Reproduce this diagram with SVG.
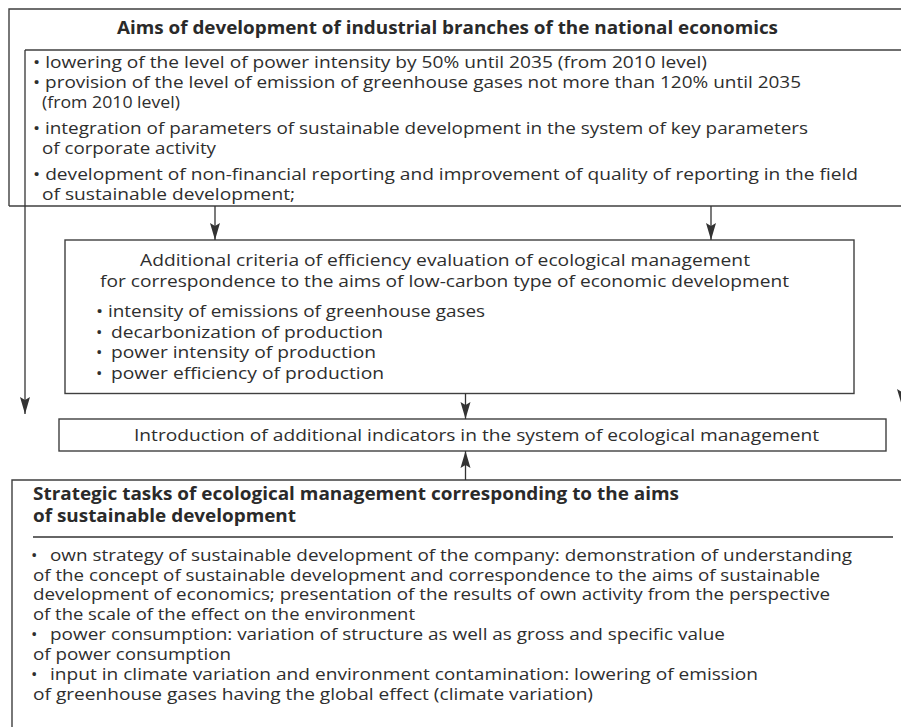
<svg xmlns="http://www.w3.org/2000/svg" width="901" height="727" viewBox="0 0 901 727">
  <style>
    .frame { fill: none; stroke: #3f3f3f; stroke-width: 1.4; }
    .link { fill: none; stroke: #333; stroke-width: 1.3; }
    .t { font-family: "Open Sans", "Liberation Sans", sans-serif; font-size: 17px; fill: #2e2e2e; }
    .h { font-family: "Open Sans", "Liberation Sans", sans-serif; font-size: 17px; font-weight: bold; fill: #2a2a2a; }
  </style>
  <defs>
    <marker id="arrow" markerUnits="userSpaceOnUse" markerWidth="18" markerHeight="12" viewBox="0 0 18 12" refX="17" refY="6" orient="auto">
      <path d="M0,1 L17,6 L0,11 L3,6 Z" fill="#333"/>
    </marker>
  </defs>
  <rect width="901" height="727" fill="#fff"/>

  <!-- Aims block (top) -->
  <g id="aims">
    <path class="frame" d="M9,206 V9 H905"/>
    <path class="frame" d="M9,206 H905"/>
    <path class="frame" d="M25,50 H905"/>
    <text class="h" x="117" y="34" textLength="661" lengthAdjust="spacingAndGlyphs">Aims of development of industrial branches of the national economics</text>
    <text class="t" x="33" y="68" textLength="674" lengthAdjust="spacingAndGlyphs">• lowering of the level of power intensity by 50% until 2035 (from 2010 level)</text>
    <text class="t" x="33" y="88" textLength="768" lengthAdjust="spacingAndGlyphs">• provision of the level of emission of greenhouse gases not more than 120% until 2035</text>
    <text class="t" x="42" y="108" textLength="138" lengthAdjust="spacingAndGlyphs">(from 2010 level)</text>
    <text class="t" x="33" y="134" textLength="775" lengthAdjust="spacingAndGlyphs">• integration of parameters of sustainable development in the system of key parameters</text>
    <text class="t" x="42" y="154" textLength="174" lengthAdjust="spacingAndGlyphs">of corporate activity</text>
    <text class="t" x="33" y="180" textLength="825" lengthAdjust="spacingAndGlyphs">• development of non-financial reporting and improvement of quality of reporting in the field</text>
    <text class="t" x="42" y="200" textLength="253" lengthAdjust="spacingAndGlyphs">of sustainable development;</text>
  </g>

  <!-- Additional criteria block -->
  <g id="criteria">
    <rect class="frame" x="65" y="240" width="789" height="153.5"/>
    <text class="t" x="140" y="266" textLength="610" lengthAdjust="spacingAndGlyphs">Additional criteria of efficiency evaluation of ecological management</text>
    <text class="t" x="100" y="287" textLength="689" lengthAdjust="spacingAndGlyphs">for correspondence to the aims of low-carbon type of economic development</text>
    <text class="t" x="96" y="317" textLength="389" lengthAdjust="spacingAndGlyphs">• intensity of emissions of greenhouse gases</text>
    <text class="t" x="96" y="338">•</text>
    <text class="t" x="111" y="338" textLength="272" lengthAdjust="spacingAndGlyphs">decarbonization of production</text>
    <text class="t" x="96" y="358">•</text>
    <text class="t" x="111" y="358" textLength="265" lengthAdjust="spacingAndGlyphs">power intensity of production</text>
    <text class="t" x="96" y="379">•</text>
    <text class="t" x="111" y="379" textLength="273" lengthAdjust="spacingAndGlyphs">power efficiency of production</text>
  </g>

  <!-- Introduction block -->
  <g id="introduction">
    <rect class="frame" x="59" y="419" width="827" height="32"/>
    <text class="t" x="134" y="441" textLength="685" lengthAdjust="spacingAndGlyphs">Introduction of additional indicators in the system of ecological management</text>
  </g>

  <!-- Strategic tasks block (bottom) -->
  <g id="tasks">
    <path class="frame" d="M12,740 V480 H905"/>
    <text class="h" x="33" y="500" textLength="646" lengthAdjust="spacingAndGlyphs">Strategic tasks of ecological management corresponding to the aims</text>
    <text class="h" x="33" y="522" textLength="263" lengthAdjust="spacingAndGlyphs">of sustainable development</text>
    <path class="link" d="M33,537 H893"/>
    <text class="t" x="31" y="561">•</text>
    <text class="t" x="50" y="561" textLength="802" lengthAdjust="spacingAndGlyphs">own strategy of sustainable development of the company: demonstration of understanding</text>
    <text class="t" x="33" y="581" textLength="787" lengthAdjust="spacingAndGlyphs">of the concept of sustainable development and correspondence to the aims of sustainable</text>
    <text class="t" x="33" y="600" textLength="797" lengthAdjust="spacingAndGlyphs">development of economics; presentation of the results of own activity from the perspective</text>
    <text class="t" x="33" y="620" textLength="382" lengthAdjust="spacingAndGlyphs">of the scale of the effect on the environment</text>
    <text class="t" x="31" y="640">•</text>
    <text class="t" x="50" y="640" textLength="675" lengthAdjust="spacingAndGlyphs">power consumption: variation of structure as well as gross and specific value</text>
    <text class="t" x="33" y="660" textLength="198" lengthAdjust="spacingAndGlyphs">of power consumption</text>
    <text class="t" x="31" y="680">•</text>
    <text class="t" x="50" y="680" textLength="708" lengthAdjust="spacingAndGlyphs">input in climate variation and environment contamination: lowering of emission</text>
    <text class="t" x="33" y="700" textLength="560" lengthAdjust="spacingAndGlyphs">of greenhouse gases having the global effect (climate variation)</text>
  </g>

  <!-- Connectors -->
  <g id="connectors">
    <path class="link" d="M25,50 V414" marker-end="url(#arrow)"/>
    <path class="link" d="M902,206 V406" marker-end="url(#arrow)"/>
    <path class="link" d="M215,206 V240" marker-end="url(#arrow)"/>
    <path class="link" d="M711,206 V240" marker-end="url(#arrow)"/>
    <path class="link" d="M465.5,393.5 V419" marker-end="url(#arrow)"/>
    <path class="link" d="M465.5,480 V451" marker-end="url(#arrow)"/>
  </g>
</svg>
